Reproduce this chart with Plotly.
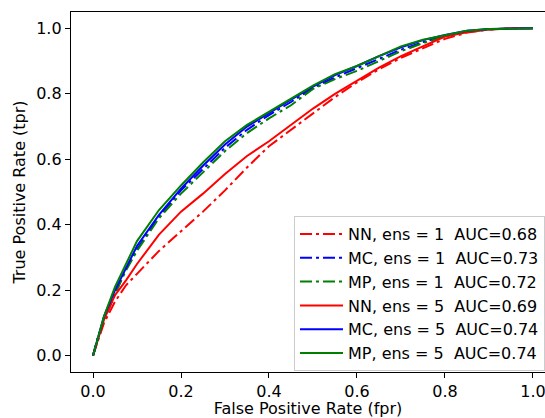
import plotly.graph_objects as go

# False positive rate grid shared by all curves
fpr = [0, 0.01, 0.025, 0.05, 0.075, 0.1, 0.15, 0.2, 0.25, 0.3, 0.35, 0.4, 0.45,
       0.5, 0.55, 0.6, 0.65, 0.7, 0.75, 0.8, 0.85, 0.9, 0.95, 1.0]

tpr_nn1 = [0, 0.04, 0.10, 0.165, 0.215, 0.25, 0.32, 0.38, 0.44, 0.505, 0.575, 0.64, 0.69,
           0.74, 0.79, 0.835, 0.875, 0.91, 0.94, 0.968, 0.987, 0.996, 1.0, 1.0]
tpr_mc1 = [0, 0.05, 0.11, 0.19, 0.265, 0.325, 0.425, 0.505, 0.57, 0.635, 0.69, 0.735, 0.775,
           0.818, 0.85, 0.878, 0.908, 0.935, 0.958, 0.977, 0.991, 0.997, 1.0, 1.0]
tpr_mp1 = [0, 0.05, 0.11, 0.19, 0.26, 0.32, 0.42, 0.495, 0.56, 0.625, 0.68, 0.725, 0.765,
           0.815, 0.845, 0.87, 0.90, 0.93, 0.955, 0.975, 0.99, 0.997, 1.0, 1.0]
tpr_nn5 = [0, 0.045, 0.11, 0.185, 0.23, 0.28, 0.37, 0.44, 0.495, 0.555, 0.61, 0.655, 0.705,
           0.755, 0.80, 0.84, 0.88, 0.915, 0.945, 0.975, 0.988, 0.997, 1.0, 1.0]
tpr_mc5 = [0, 0.05, 0.12, 0.20, 0.27, 0.335, 0.43, 0.51, 0.58, 0.645, 0.70, 0.742, 0.782,
           0.822, 0.857, 0.885, 0.915, 0.942, 0.964, 0.98, 0.993, 0.998, 1.0, 1.0]
tpr_mp5 = [0, 0.05, 0.12, 0.21, 0.28, 0.35, 0.445, 0.52, 0.59, 0.655, 0.705, 0.745, 0.785,
           0.825, 0.86, 0.885, 0.915, 0.945, 0.965, 0.98, 0.993, 0.998, 1.0, 1.0]

labels = ["NN, ens = 1\u00a0\u00a0AUC=0.68", "MC, ens = 1\u00a0\u00a0AUC=0.73",
          "MP, ens = 1\u00a0\u00a0AUC=0.72", "NN, ens = 5\u00a0\u00a0AUC=0.69",
          "MC, ens = 5\u00a0\u00a0AUC=0.74", "MP, ens = 5\u00a0\u00a0AUC=0.74"]
series = [tpr_nn1, tpr_mc1, tpr_mp1, tpr_nn5, tpr_mc5, tpr_mp5]
colors = ["#ff0000", "#0000ff", "#008000", "#ff0000", "#0000ff", "#008000"]
dashes = ["12px,4px,3px,4px"] * 3 + ["solid"] * 3

tick_vals = [0.0, 0.2, 0.4, 0.6, 0.8, 1.0]
tick_text = ["0.0", "0.2", "0.4", "0.6", "0.8", "1.0"]

fig = go.Figure()
for lab, y, c, d in zip(labels, series, colors, dashes):
    fig.add_trace(go.Scatter(x=fpr, y=y, mode="lines", name=lab,
                             line=dict(color=c, width=2, dash=d)))

font = dict(family="DejaVu Sans", size=16, color="black")
axis_common = dict(showgrid=False, zeroline=False, showline=True, linecolor="black",
                   linewidth=1.3, ticks="outside", ticklen=5, tickwidth=1.3,
                   tickcolor="black", tickvals=tick_vals, ticktext=tick_text,
                   tickfont=font, ticklabeloverflow="allow")

fig.update_layout(
    width=545, height=418,
    margin=dict(l=71, r=0, t=12, b=46),
    plot_bgcolor="white", paper_bgcolor="white",
    font=font,
    xaxis=dict(range=[-0.05, 1.0273], mirror=True,
               title=dict(text="False Positive Rate (fpr)", font=font, standoff=6),
               **axis_common),
    yaxis=dict(range=[-0.05, 1.05], mirror=False,
               title=dict(text="True Positive Rate (tpr)", font=font, standoff=6),
               **axis_common),
    legend=dict(x=0.4705, y=0.433, xanchor="left", yanchor="top",
                bgcolor="rgba(255,255,255,0.8)", bordercolor="#cccccc", borderwidth=1,
                font=font, itemwidth=43),
    showlegend=True,
)

fig.write_html("out.html", config={"displayModeBar": False},
               post_script="document.body.style.margin='0';")
